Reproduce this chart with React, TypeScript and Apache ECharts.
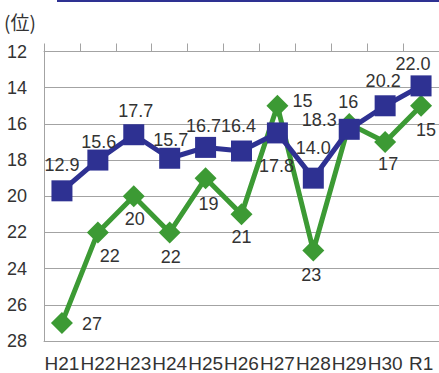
import React, { useEffect, useRef } from "react";
import * as echarts from "echarts";

const categories = ["H21", "H22", "H23", "H24", "H25", "H26", "H27", "H28", "H29", "H30", "R1"];
const blueRank = [19.7, 18.0, 16.6, 17.9, 17.3, 17.5, 16.5, 19.0, 16.3, 15.0, 13.9];
const blueLabels = ["12.9", "15.6", "17.7", "15.7", "16.7", "16.4", "17.8", "14.0", "18.3", "20.2", "22.0"];
const greenRank = [27, 22, 20, 22, 19, 21, 15, 23, 16, 17, 15];
const yTicks = { min: 12, max: 28, interval: 2 };

// label offsets from the marker centre (styling only)
const blueOffsets = [[0, -26], [1, -18], [2, -24], [1, -18], [-2, -21], [-3, -25], [-1, 33], [0, -30], [-30, -9], [-2, -25], [-8, -22]];
const greenOffsets = [[30, 1], [12, 24], [1, 23], [1, 25], [3, 26], [0, 23], [25, -5], [-2, 24], [-1, -22], [3, 22], [5, 24]];

const FONT = "'Liberation Sans', Arial, sans-serif";
const TXT = "#333333";
const GRID = "#a3a3a3";
const BLUE = "#2e3192";
const GREEN = "#3c9a34";

export default function App() {
  const ref = useRef<HTMLDivElement>(null);
  useEffect(() => {
    if (!ref.current) return;
    const chart = echarts.init(ref.current, null, { renderer: "svg" });
    const labelBase = { show: true, position: "inside", fontSize: 18, fontFamily: FONT, color: TXT };
    chart.setOption({
      animation: false,
      backgroundColor: "#ffffff",
      textStyle: { fontFamily: FONT },
      grid: { left: 44, top: 51.5, width: 400, height: 290 },
      graphic: [
        { type: "line", shape: { x1: 57, y1: 1, x2: 439, y2: 1 }, style: { stroke: BLUE, lineWidth: 2 } },
        {
          type: "text",
          x: 4,
          y: 21,
          style: { text: "(位)", fontSize: 19, fontFamily: "'Noto Sans CJK JP', sans-serif", fill: TXT, verticalAlign: "middle" },
        },
      ],
      xAxis: [
        {
          type: "category",
          data: categories,
          position: "top",
          boundaryGap: true,
          axisLine: { show: true, lineStyle: { color: GRID, width: 1 } },
          axisTick: { show: true, length: 8, inside: false, lineStyle: { color: GRID } },
          axisLabel: { show: false },
          splitLine: { show: false },
        },
        {
          type: "category",
          data: categories,
          position: "bottom",
          boundaryGap: true,
          axisLine: { show: true, lineStyle: { color: GRID, width: 1 } },
          axisTick: { show: false },
          axisLabel: { show: true, interval: 0, fontSize: 19, color: TXT, fontFamily: FONT, margin: 13 },
        },
      ],
      yAxis: {
        type: "value",
        inverse: true,
        min: yTicks.min,
        max: yTicks.max,
        interval: yTicks.interval,
        axisLine: { show: true, lineStyle: { color: GRID, width: 1 } },
        axisTick: { show: false },
        axisLabel: { fontSize: 18, color: TXT, fontFamily: FONT, margin: 17 },
        splitLine: { show: true, lineStyle: { color: GRID, width: 1 } },
      },
      series: [
        {
          type: "line",
          xAxisIndex: 0,
          data: greenRank.map((v, i) => ({
            value: v,
            label: { ...labelBase, offset: greenOffsets[i] },
          })),
          symbol: "diamond",
          symbolSize: 22,
          lineStyle: { color: GREEN, width: 5 },
          itemStyle: { color: GREEN },
          label: { ...labelBase, formatter: (p: any) => String(greenRank[p.dataIndex]) },
          z: 2,
        },
        {
          type: "line",
          xAxisIndex: 0,
          data: blueRank.map((v, i) => ({
            value: v,
            label: { ...labelBase, offset: blueOffsets[i] },
          })),
          symbol: "rect",
          symbolSize: 21,
          lineStyle: { color: BLUE, width: 5 },
          itemStyle: { color: BLUE },
          label: { ...labelBase, formatter: (p: any) => blueLabels[p.dataIndex] },
          z: 3,
        },
      ],
    });
    return () => chart.dispose();
  }, []);
  return (
    <div
      ref={ref}
      style={{ position: "fixed", left: 0, top: 0, width: 439, height: 373, background: "#fff" }}
    />
  );
}
